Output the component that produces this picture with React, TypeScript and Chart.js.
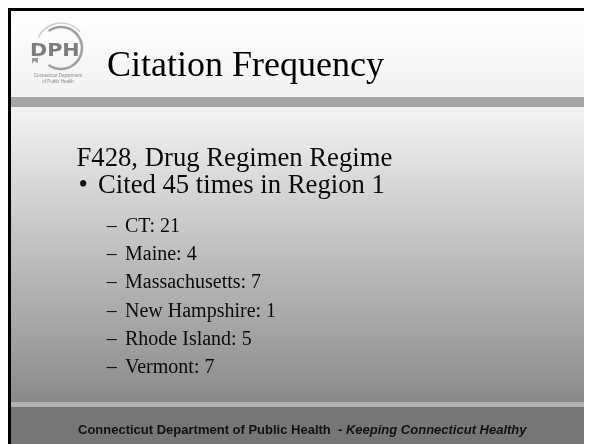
import React, { useEffect, useRef } from "react";
import { Chart, registerables } from "chart.js";

Chart.register(...registerables);

const titleText = "Citation Frequency";
const headingText = "F428, Drug Regimen Regime";
const bulletText = "Cited 45 times in Region 1";
const footerMain = "Connecticut Department of Public Health";
const footerTagline = "Keeping Connecticut Healthy";
const states = ["CT", "Maine", "Massachusetts", "New Hampshire", "Rhode Island", "Vermont"];
const citations = [21, 4, 7, 1, 5, 7];

const SERIF = '"Liberation Serif", "Times New Roman", serif';
const SANS = '"Liberation Sans", Arial, sans-serif';

const slidePlugin = {
  id: "slide",
  beforeDraw(chart: any) {
    const ctx: CanvasRenderingContext2D = chart.ctx;
    const W = chart.width;
    const H = chart.height;
    ctx.save();
    // frame
    ctx.fillStyle = "#000000";
    ctx.fillRect(0, 0, W, H);
    // header
    let g = ctx.createLinearGradient(0, 3, 0, 89);
    g.addColorStop(0, "#ffffff");
    g.addColorStop(1, "#f1f1f1");
    ctx.fillStyle = g;
    ctx.fillRect(3, 3, W - 6, 86);
    // grey band
    ctx.fillStyle = "#a5a5a5";
    ctx.fillRect(3, 89, W - 6, 10);
    // body gradient
    g = ctx.createLinearGradient(0, 99, 0, 394);
    g.addColorStop(0, "#f3f3f3");
    g.addColorStop(1, "#8a8a8a");
    ctx.fillStyle = g;
    ctx.fillRect(3, 99, W - 6, 295);
    // light line
    ctx.fillStyle = "#b2b2b2";
    ctx.fillRect(3, 394, W - 6, 5);
    // footer
    ctx.fillStyle = "#767676";
    ctx.fillRect(3, 399, W - 6, H - 402);

    // logo
    ctx.strokeStyle = "#a0a0a0";
    ctx.lineWidth = 2.5;
    ctx.beginPath();
    ctx.arc(53, 40, 21, -2.2, 2.2);
    ctx.stroke();
    ctx.strokeStyle = "#cccccc";
    ctx.lineWidth = 1.5;
    ctx.beginPath();
    ctx.arc(53, 40, 25, -2.7, -0.7);
    ctx.stroke();
    ctx.fillStyle = "#9a9a9a";
    ctx.beginPath();
    ctx.moveTo(24, 50);
    ctx.lineTo(30, 50);
    ctx.lineTo(30, 55);
    ctx.lineTo(26, 53);
    ctx.lineTo(24, 56);
    ctx.closePath();
    ctx.fill();
    ctx.fillStyle = "#7d7d7d";
    ctx.save();
    ctx.translate(22, 48);
    ctx.scale(1.15, 1);
    ctx.font = 'bold 18px "DejaVu Sans", sans-serif';
    ctx.textBaseline = "alphabetic";
    ctx.textAlign = "left";
    ctx.fillText("DPH", 0, 0);
    ctx.restore();
    ctx.fillStyle = "#8a8a8a";
    ctx.font = "4.5px " + SANS;
    ctx.textAlign = "center";
    ctx.fillText("Connecticut Department", 50, 69);
    ctx.fillText("of Public Health", 50, 75);

    // title
    ctx.textAlign = "left";
    ctx.textBaseline = "alphabetic";
    ctx.fillStyle = "#000000";
    ctx.font = "36px " + SERIF;
    ctx.fillText(titleText, 99, 67.5);

    // heading & bullet
    ctx.fillStyle = "#0a0a0a";
    ctx.font = "26.7px " + SERIF;
    ctx.fillText(headingText, 68.5, 157.5);
    ctx.fillText("\u2022", 70.5, 185.3);
    ctx.fillText(bulletText, 90, 185.3);

    // sub-bullets from data
    const labels = chart.data.labels as string[];
    const vals = chart.data.datasets[0].data as number[];
    ctx.font = "20px " + SERIF;
    labels.forEach((lab, i) => {
      const y = 223.7 + i * 28.35;
      ctx.fillText("\u2013", 98.7, y);
      ctx.fillText(`${lab}: ${vals[i]}`, 117, y);
    });

    // footer text
    ctx.fillStyle = "#111111";
    ctx.font = "bold 13px " + SANS;
    const part1 = footerMain + "  - ";
    ctx.fillText(part1, 70, 425.5);
    const w1 = ctx.measureText(part1).width;
    ctx.font = "italic bold 13px " + SANS;
    ctx.fillText(footerTagline, 70 + w1, 425.5);
    ctx.restore();
  },
};

export default function App() {
  const ref = useRef<HTMLCanvasElement>(null);
  useEffect(() => {
    if (!ref.current) return;
    const chart = new Chart(ref.current, {
      type: "bar",
      data: {
        labels: states,
        datasets: [
          {
            label: "Citations",
            data: citations,
            backgroundColor: "rgba(0,0,0,0)",
            borderWidth: 0,
          },
        ],
      },
      options: {
        responsive: false,
        animation: false,
        events: [],
        scales: { x: { display: false }, y: { display: false } },
        plugins: { legend: { display: false }, tooltip: { enabled: false } },
      },
      plugins: [slidePlugin],
    });
    return () => chart.destroy();
  }, []);
  return (
    <canvas ref={ref} width={600} height={450} style={{ display: "block", width: 600, height: 450 }} />
  );
}
